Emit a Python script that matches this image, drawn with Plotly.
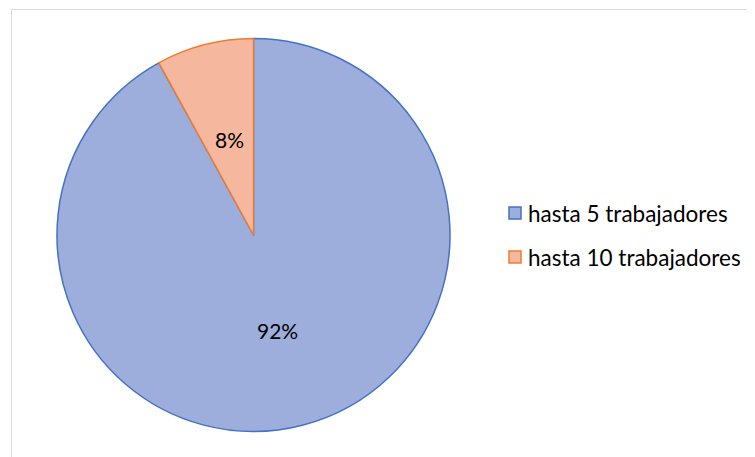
import math
import plotly.graph_objects as go

labels = ["hasta 5 trabajadores", "hasta 10 trabajadores"]
values = [92, 8]
fill_colors = ["#9daedc", "#f5b89e"]
line_colors = ["#4472c4", "#ed7d31"]

W, H = 755, 457
OFF = 8  # page body margin offset
cx, cy, R = 253.5 - OFF, 235.0 - OFF, 196.5

fig = go.Figure()
fig.add_trace(go.Pie(
    labels=labels,
    values=values,
    sort=False,
    direction="clockwise",
    rotation=0,
    marker=dict(colors=fill_colors, line=dict(color=line_colors, width=1.5)),
    textinfo="none",
    hoverinfo="label+percent",
    showlegend=False,
    domain=dict(x=[(cx - R) / W, (cx + R) / W], y=[1 - (cy + R) / H, 1 - (cy - R) / H]),
))

shapes = [dict(type="rect", xref="paper", yref="paper",
               x0=(11.5 - OFF) / W, x1=1.05, y0=-0.05, y1=1 - (9.5 - OFF) / H,
               line=dict(color="#d9d9d9", width=1), fillcolor="rgba(0,0,0,0)", layer="below")]
annotations = []

# percentage labels at half radius along each slice bisector
total = sum(values)
start = 0.0
for v in values:
    frac = v / total
    mid = (start + frac / 2) * 2 * math.pi
    start += frac
    px = cx + 0.5 * R * math.sin(mid)
    py = cy - 0.5 * R * math.cos(mid)
    annotations.append(dict(xref="paper", yref="paper", x=px / W, y=1 - py / H,
                            text=f"{round(frac * 100)}%", showarrow=False,
                            xanchor="center", yanchor="middle",
                            font=dict(family="Lato", size=21, color="#000000")))

leg_x, leg_y0, leg_gap, sq = 509 - OFF, 213 - OFF, 44, 12
for i, lab in enumerate(labels):
    yc = leg_y0 + i * leg_gap
    shapes.append(dict(type="rect", xref="paper", yref="paper",
                       x0=leg_x / W, x1=(leg_x + sq) / W,
                       y0=1 - (yc + sq / 2) / H, y1=1 - (yc - sq / 2) / H,
                       fillcolor=fill_colors[i], line=dict(color=line_colors[i], width=1.5)))
    annotations.append(dict(xref="paper", yref="paper", x=(leg_x + sq + 5) / W, y=1 - yc / H,
                            text=lab, showarrow=False, xanchor="left", yanchor="middle",
                            font=dict(family="Lato", size=22.5, color="#000000")))

fig.update_layout(
    width=W, height=H,
    margin=dict(l=0, r=0, t=0, b=0),
    paper_bgcolor="white", plot_bgcolor="white",
    shapes=shapes, annotations=annotations,
)
fig.write_html("out.html")
